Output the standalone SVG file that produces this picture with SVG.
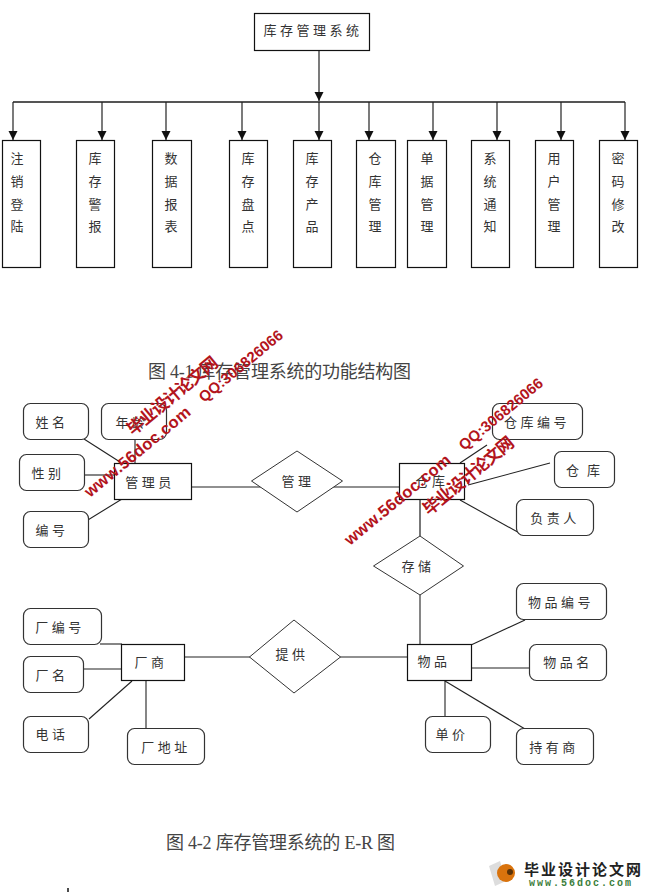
<svg xmlns="http://www.w3.org/2000/svg" width="647" height="892" viewBox="0 0 647 892">
<defs>
<marker id="arrow" markerUnits="userSpaceOnUse" markerWidth="10" markerHeight="10" refX="9" refY="4.500" orient="auto"><path d="M0,0 L9,4.500 L0,9 Z" fill="#111"/></marker>
</defs>
<style>
text{font-family:"Noto Sans CJK SC","Liberation Sans",sans-serif;fill:#333}
.lab{font-size:13px;text-anchor:middle;letter-spacing:3.500px}
.v{font-size:13px;text-anchor:middle}
.box{fill:#fff;stroke:#111;stroke-width:1.2}
.attr{fill:#fff;stroke:#333;stroke-width:1.2}
.dia{fill:#fff;stroke:#333;stroke-width:1}
.con{stroke:#222;stroke-width:1.1;fill:none}
.arr{stroke:#222;stroke-width:1.2;fill:none;marker-end:url(#arrow)}
.cap{font-family:"Liberation Serif","Noto Sans CJK SC",serif;font-size:18px;fill:#444}
.wm{font-family:"Liberation Sans","Noto Sans CJK SC",sans-serif;font-weight:bold;fill:#b3141c}
</style>
<g id="connectors">
<path class="arr" d="M319,50 V101"/>
<path d="M13,102 H625" stroke="#555" stroke-width="2" fill="none"/>
<path class="arr" d="M13,102 V140"/><path class="arr" d="M102,102 V140"/><path class="arr" d="M166,102 V140"/><path class="arr" d="M242,102 V140"/><path class="arr" d="M319,102 V140"/><path class="arr" d="M369,102 V140"/><path class="arr" d="M433,102 V140"/><path class="arr" d="M497,102 V140"/><path class="arr" d="M561,102 V140"/><path class="arr" d="M625,102 V140"/>
<path class="con" d="M84,439 L120,462"/><path class="con" d="M135,439 V463"/><path class="con" d="M83,475 H115"/><path class="con" d="M83,523 L122,499"/>
<path class="con" d="M187,487 H262"/><path class="con" d="M330,487 H399"/>
<path class="con" d="M460,463 L487,445"/><path class="con" d="M468,485 L550,463"/><path class="con" d="M460,500 L523,535"/>
<path d="M420,500 V536" stroke="#555" stroke-width="1.6" fill="none"/><path class="con" d="M420,595 V645"/>
<path class="con" d="M100,644 H122"/><path class="con" d="M83,669 H122"/><path class="con" d="M89,719 L132,681"/><path class="con" d="M146,681 V728"/>
<path class="con" d="M185,657 H250"/><path class="con" d="M340,657 H407"/>
<path class="con" d="M471,645 L525,620"/><path class="con" d="M471,668 H529"/><path class="con" d="M445,681 V716"/><path class="con" d="M445,681 L525,729"/>
</g>
<g id="root"><rect class="box" x="254.500" y="13.500" width="115" height="37"/><text class="lab" x="313" y="35">库存管理系统</text></g>
<g id="n1"><rect class="box" x="2.500" y="140.500" width="38" height="127"/><text class="v" x="17" y="163">注</text><text class="v" x="17" y="186">销</text><text class="v" x="17" y="209">登</text><text class="v" x="17" y="231">陆</text></g>
<g id="n2"><rect class="box" x="76.500" y="140.500" width="38" height="127"/><text class="v" x="95" y="163">库</text><text class="v" x="95" y="186">存</text><text class="v" x="95" y="209">警</text><text class="v" x="95" y="231">报</text></g>
<g id="n3"><rect class="box" x="152.500" y="140.500" width="39" height="127"/><text class="v" x="171" y="163">数</text><text class="v" x="171" y="186">据</text><text class="v" x="171" y="209">报</text><text class="v" x="171" y="231">表</text></g>
<g id="n4"><rect class="box" x="229.500" y="140.500" width="38" height="127"/><text class="v" x="248" y="163">库</text><text class="v" x="248" y="186">存</text><text class="v" x="248" y="209">盘</text><text class="v" x="248" y="231">点</text></g>
<g id="n5"><rect class="box" x="293.500" y="140.500" width="38" height="127"/><text class="v" x="312" y="163">库</text><text class="v" x="312" y="186">存</text><text class="v" x="312" y="209">产</text><text class="v" x="312" y="231">品</text></g>
<g id="n6"><rect class="box" x="356.500" y="140.500" width="39" height="127"/><text class="v" x="375" y="163">仓</text><text class="v" x="375" y="186">库</text><text class="v" x="375" y="209">管</text><text class="v" x="375" y="231">理</text></g>
<g id="n7"><rect class="box" x="407.500" y="140.500" width="39" height="127"/><text class="v" x="427" y="163">单</text><text class="v" x="427" y="186">据</text><text class="v" x="427" y="209">管</text><text class="v" x="427" y="231">理</text></g>
<g id="n8"><rect class="box" x="471.500" y="140.500" width="38" height="127"/><text class="v" x="490" y="163">系</text><text class="v" x="490" y="186">统</text><text class="v" x="490" y="209">通</text><text class="v" x="490" y="231">知</text></g>
<g id="n9"><rect class="box" x="535.500" y="140.500" width="38" height="127"/><text class="v" x="554" y="163">用</text><text class="v" x="554" y="186">户</text><text class="v" x="554" y="209">管</text><text class="v" x="554" y="231">理</text></g>
<g id="n10"><rect class="box" x="599.500" y="140.500" width="38" height="127"/><text class="v" x="618" y="163">密</text><text class="v" x="618" y="186">码</text><text class="v" x="618" y="209">修</text><text class="v" x="618" y="231">改</text></g>
<text class="cap" x="148" y="378" textLength="263">图 4-1 库存管理系统的功能结构图</text>
<g id="a-name"><rect class="attr" x="23.500" y="403.500" width="65" height="36" rx="7"/><text class="lab" x="52" y="427">姓名</text></g>
<g id="a-age"><rect class="attr" x="101.500" y="403.500" width="65" height="36" rx="7"/><text class="lab" x="132" y="427">年龄</text></g>
<g id="a-sex"><rect class="attr" x="19.500" y="454.500" width="65" height="36" rx="7"/><text class="lab" x="48" y="478">性别</text></g>
<g id="a-id"><rect class="attr" x="23.500" y="511.500" width="65" height="36" rx="7"/><text class="lab" x="52" y="535">编号</text></g>
<g id="e-admin"><rect class="box" x="114.500" y="463.500" width="77" height="36"/><text class="lab" x="150" y="487">管理员</text></g>
<g id="r-manage"><polygon class="dia" points="251.500,481 297,451 342.500,481 297,512"/><text class="lab" x="298" y="486">管理</text></g>
<g id="e-wh"><rect class="box" x="399.500" y="463.500" width="65" height="36"/><text class="lab" x="432" y="486">仓库</text></g>
<g id="a-whid"><rect class="attr" x="492.500" y="403.500" width="90" height="36" rx="7"/><text class="lab" x="537" y="427">仓库编号</text></g>
<g id="a-wh"><rect class="attr" x="554.500" y="451.500" width="60" height="36" rx="7"/><text class="lab" x="587" y="475" style="letter-spacing:8px">仓库</text></g>
<g id="a-owner"><rect class="attr" x="516.500" y="499.500" width="77" height="36" rx="7"/><text class="lab" x="555" y="523">负责人</text></g>
<g id="r-store"><polygon class="dia" points="373.500,566 420,536 463.500,566 420,595"/><text class="lab" x="418" y="571">存储</text></g>
<g id="a-vid"><rect class="attr" x="23.500" y="608.500" width="78" height="36" rx="7"/><text class="lab" x="60" y="632">厂编号</text></g>
<g id="a-vname"><rect class="attr" x="23.500" y="656.500" width="60" height="36" rx="7"/><text class="lab" x="52" y="680">厂名</text></g>
<g id="a-tel"><rect class="attr" x="23.500" y="716.500" width="65" height="36" rx="7"/><text class="lab" x="52" y="739">电话</text></g>
<g id="a-addr"><rect class="attr" x="127.500" y="728.500" width="77" height="36" rx="7"/><text class="lab" x="166" y="752">厂地址</text></g>
<g id="e-vendor"><rect class="box" x="121.500" y="644.500" width="63" height="36"/><text class="lab" x="151" y="667">厂商</text></g>
<g id="r-supply"><polygon class="dia" points="249.500,657 294,620 340.500,657 294,693"/><text class="lab" x="292" y="659">提供</text></g>
<g id="e-item"><rect class="box" x="407.500" y="644.500" width="64" height="36"/><text class="lab" x="434" y="666">物品</text></g>
<g id="a-itemid"><rect class="attr" x="516.500" y="583.500" width="90" height="36" rx="7"/><text class="lab" x="561" y="607">物品编号</text></g>
<g id="a-itemname"><rect class="attr" x="529.500" y="644.500" width="77" height="36" rx="7"/><text class="lab" x="568" y="667">物品名</text></g>
<g id="a-price"><rect class="attr" x="425.500" y="716.500" width="65" height="36" rx="7"/><text class="lab" x="452" y="739">单价</text></g>
<g id="a-holder"><rect class="attr" x="516.500" y="728.500" width="77" height="36" rx="7"/><text class="lab" x="554" y="752">持有商</text></g>
<text class="cap" x="166" y="849" textLength="229">图 4-2 库存管理系统的 E-R 图</text>
<path d="M68,888 V892" stroke="#111" stroke-width="1.500"/>
<g id="watermark">
<text class="wm" font-size="16.500" transform="translate(90,498) rotate(-39.500)" textLength="132">www.56doc.com</text>
<text class="wm" font-size="17" transform="translate(133,436) rotate(-39.500)" textLength="112">毕业设计论文网</text>
<text class="wm" font-size="15" transform="translate(204,403) rotate(-39.500)" textLength="104">QQ:306826066</text>
<text class="wm" font-size="16.500" transform="translate(350,546) rotate(-39.500)" textLength="132">www.56doc.com</text>
<text class="wm" font-size="17" transform="translate(429,516) rotate(-39.500)" textLength="112">毕业设计论文网</text>
<text class="wm" font-size="15" transform="translate(464,451) rotate(-39.500)" textLength="104">QQ:306826066</text>
</g>
<g id="logo">
<path d="M489,866 L500,861 L506,881 L495,886 Z" fill="#ddd"/>
<circle cx="506" cy="873" r="9" fill="#d9730d"/>
<circle cx="510" cy="872" r="3" fill="#5a3208"/>
<text x="524" y="875" font-size="15" font-weight="bold" letter-spacing="2" style="fill:#222">毕业设计论文网</text>
<text x="529" y="886" font-size="10" font-weight="bold" letter-spacing="2" style="font-family:'Liberation Mono',monospace;fill:#3a7d3a">www.56doc.com</text>
</g>
</svg>
